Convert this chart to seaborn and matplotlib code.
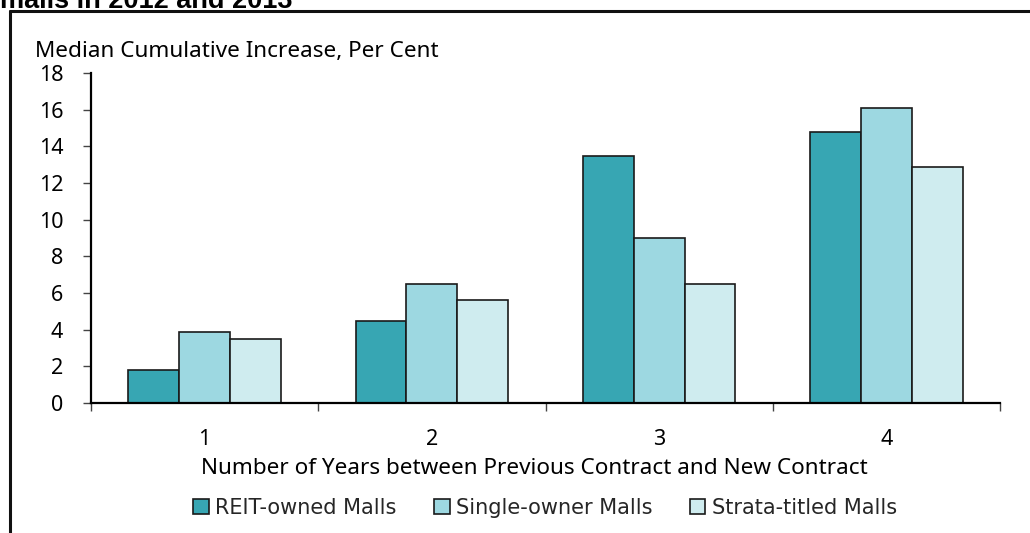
import matplotlib
matplotlib.use("Agg")
import matplotlib.pyplot as plt
from matplotlib.lines import Line2D
from matplotlib.patches import Patch
import seaborn as sns
import pandas as pd

# Median cumulative rent increase by years between contracts
years = ["1", "2", "3", "4"]
mall_types = ["REIT-owned Malls", "Single-owner Malls", "Strata-titled Malls"]
reit_owned = [1.8, 4.5, 13.5, 14.8]
single_owner = [3.9, 6.5, 9.0, 16.1]
strata_titled = [3.5, 5.6, 6.5, 12.9]
y_ticks = [0, 2, 4, 6, 8, 10, 12, 14, 16, 18]

colors = ["#37a6b3", "#9dd8e1", "#cfecef"]

rows = []
for name, vals in zip(mall_types, [reit_owned, single_owner, strata_titled]):
    for yr, v in zip(years, vals):
        rows.append({"Years": yr, "Type": name, "Value": v})
df = pd.DataFrame(rows)

sns.set_theme(style="white")
plt.rcParams["font.family"] = ["Noto Sans", "DejaVu Sans"]

fig = plt.figure(figsize=(10.30, 5.33), dpi=100)
ax = fig.add_axes([91 / 1030, 1 - 403 / 533, 909 / 1030, 330 / 533])

sns.barplot(data=df, x="Years", y="Value", hue="Type", order=years,
            hue_order=mall_types, palette=colors, width=0.672,
            edgecolor="#1a1a1a", linewidth=1.2, saturation=1,
            errorbar=None, legend=False, ax=ax)

ax.set_ylim(0, 18)
ax.set_xlim(-0.5, len(years) - 0.5)
ax.set_yticks(y_ticks)
ax.set_yticklabels([str(t) for t in y_ticks], fontsize=15.5)
ax.set_xlabel("")
ax.set_ylabel("")

for side in ["top", "right"]:
    ax.spines[side].set_visible(False)
for side in ["left", "bottom"]:
    ax.spines[side].set_color("black")
    ax.spines[side].set_linewidth(1.6)

ax.tick_params(axis="y", which="major", direction="out", length=6, width=1,
               color="#444444", pad=14, labelcolor="black", left=True)
# category labels at centres, tick marks at category boundaries
ax.set_xticks(range(len(years)))
ax.set_xticklabels(years, fontsize=15.5)
ax.tick_params(axis="x", which="major", length=0, pad=19, labelcolor="black")
ax.set_xticks([i - 0.5 for i in range(len(years) + 1)], minor=True)
ax.tick_params(axis="x", which="minor", direction="out", length=6, width=1,
               color="#444444", bottom=True)

fig.text(35 / 1030, 1 - 51 / 533, "Median Cumulative Increase, Per Cent",
         fontsize=16.2, ha="left", va="center", color="black")
fig.text(534 / 1030, 1 - 468 / 533,
         "Number of Years between Previous Contract and New Contract",
         fontsize=16.2, ha="center", va="center", color="black")

# chart title, clipped at the top edge
fig.text(0 / 1030, 1 - 7.5 / 533, "malls in 2012 and 2013", fontsize=19.5,
         fontweight="bold", family="Liberation Sans", ha="left",
         va="baseline", color="black")

# frame around the chart
fig.add_artist(Line2D([10 / 1030, 10 / 1030], [-0.05, 1 - 11 / 533],
                      transform=fig.transFigure, color="#111111", lw=2.2))
fig.add_artist(Line2D([10 / 1030, 1.05], [1 - 11 / 533, 1 - 11 / 533],
                      transform=fig.transFigure, color="#111111", lw=2.2))

handles = [Patch(facecolor=c, edgecolor="#1a1a1a", linewidth=1.2) for c in colors]
fig.legend(handles, mall_types, loc="center", ncol=3,
           bbox_to_anchor=(545 / 1030, 1 - 508 / 533), frameon=False,
           handlelength=0.75, handleheight=0.75, handletextpad=0.3,
           columnspacing=1.8, prop={"family": "DejaVu Sans", "size": 15})

fig.savefig("out.png", dpi=100)
